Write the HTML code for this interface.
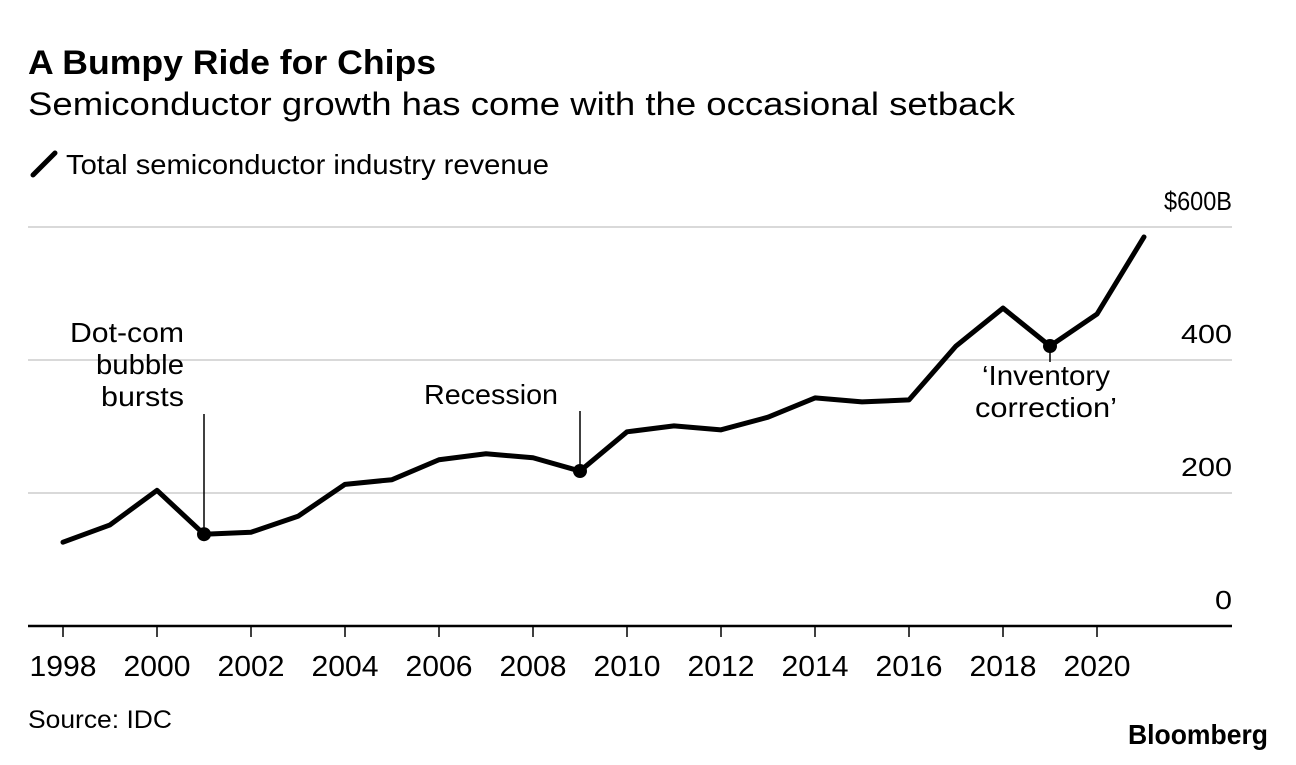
<!DOCTYPE html>
<html><head><meta charset="utf-8"><style>
body{margin:0;background:#fff;width:1296px;height:760px;overflow:hidden;font-family:"Liberation Sans",Arial,sans-serif;}
svg text{font-family:"Liberation Sans",Arial,sans-serif;fill:#000;}
</style></head><body>
<svg width="1296" height="760">
<text x="28" y="74" font-size="34" font-weight="bold" textLength="408" lengthAdjust="spacingAndGlyphs">A Bumpy Ride for Chips</text>
<text x="28" y="115" font-size="32" textLength="987" lengthAdjust="spacingAndGlyphs">Semiconductor growth has come with the occasional setback</text>
<line x1="33" y1="175" x2="55" y2="153" stroke="#000" stroke-width="5" stroke-linecap="round"/>
<text x="66" y="174" font-size="28" textLength="483" lengthAdjust="spacingAndGlyphs">Total semiconductor industry revenue</text>
<g id="grid"></g>
<g id="xaxis"></g>
<g id="annot"></g>
<path id="line" fill="none" stroke="#000" stroke-width="5" stroke-linejoin="round" stroke-linecap="round"/>
<g id="dots"></g>
<text x="28" y="728" font-size="25" textLength="144" lengthAdjust="spacingAndGlyphs">Source: IDC</text>
<text x="1128" y="744" font-size="28" font-weight="bold" textLength="140" lengthAdjust="spacingAndGlyphs">Bloomberg</text>
</svg>
<script>
const years=[1998,1999,2000,2001,2002,2003,2004,2005,2006,2007,2008,2009,2010,2011,2012,2013,2014,2015,2016,2017,2018,2019,2020,2021];
const revenue=[126,152,204,138,141,165,213,220,250,259,253,233,292,301,295,314,343,337,340,421,478,421,469,585];
const yTicks=[0,200,400,600];
const yTickLabels=["0","200","400","$600B"];
const xTicks=[1998,2000,2002,2004,2006,2008,2010,2012,2014,2016,2018,2020];
const highlights=[2001,2009,2019];
const NS="http://www.w3.org/2000/svg";
const x=v=>63+(v-1998)*47;
const y=v=>626-v*0.665;
function mk(tag,attrs,parent){const e=document.createElementNS(NS,tag);for(const k in attrs)e.setAttribute(k,attrs[k]);parent.appendChild(e);return e;}
const grid=document.getElementById('grid');
yTicks.forEach((t,i)=>{
 const l=mk('line',{x1:28,x2:1232,y1:y(t),y2:y(t),stroke:t===0?'#000':'#d9d9d9','stroke-width':t===0?2.5:2},grid);
 
 
 const lab=yTickLabels[i];
 const w=lab.length===5?68:lab.length*17;
 const tx=mk('text',{x:1232,y:y(t)-17,'font-size':26,'text-anchor':'end',textLength:w,lengthAdjust:'spacingAndGlyphs'},grid);
 tx.textContent=lab;
 
 
});
const xa=document.getElementById('xaxis');
xTicks.forEach(t=>{
 const l=mk('line',{x1:x(t),x2:x(t),y1:626,y2:637,stroke:'#000','stroke-width':1.5},xa);
 
 
 const tx=mk('text',{x:x(t),y:676,'font-size':29,'text-anchor':'middle',textLength:67,lengthAdjust:'spacingAndGlyphs'},xa);
 tx.textContent=t;
 
 
});
document.getElementById('line').setAttribute('d',years.map((yr,i)=>(i?'L':'M')+x(yr)+','+y(revenue[i])).join(''));
const an=document.getElementById('annot');
function val(yr){return revenue[years.indexOf(yr)];}
let l=mk('line',{x1:x(2001),x2:x(2001),y1:414,y2:y(val(2001)),stroke:'#000','stroke-width':1.5},an);

l=mk('line',{x1:x(2009),x2:x(2009),y1:411,y2:y(val(2009)),stroke:'#000','stroke-width':1.5},an);

l=mk('line',{x1:x(2019),x2:x(2019),y1:y(val(2019)),y2:362,stroke:'#000','stroke-width':1.5},an);

[["Dot-com",70,342,114],["bubble",96,374,88],["bursts",101,406,83],["Recession",424,404,134],["‘Inventory",982,385,128],["correction’",975,417,142]].forEach(a=>{
 const t=mk('text',{x:a[1],y:a[2],'font-size':28,textLength:a[3],lengthAdjust:'spacingAndGlyphs'},an);
 t.textContent=a[0];
 
 
});
const dots=document.getElementById('dots');
highlights.forEach(yr=>{
 const c=mk('circle',{cx:x(yr),cy:y(val(yr)),r:7,fill:'#000'},dots);
 
 
});
</script>
</body></html>
